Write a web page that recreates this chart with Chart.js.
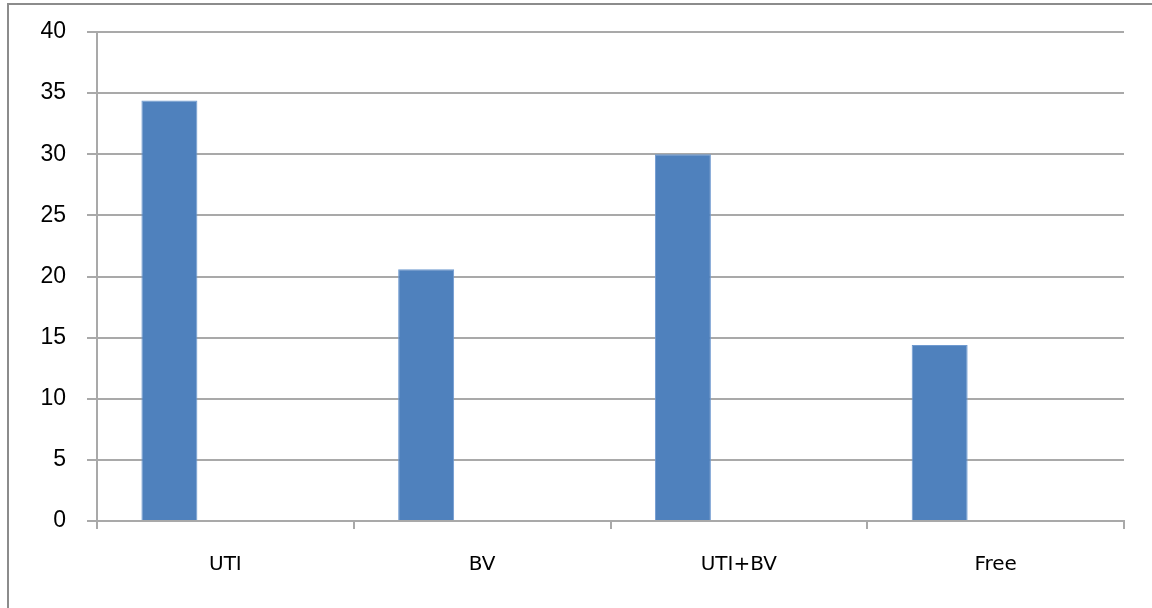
<!DOCTYPE html>
<html>
<head>
<meta charset="utf-8">
<script src="https://cdn.jsdelivr.net/npm/chart.js@4/dist/chart.umd.min.js"></script>
<style>
  html, body { margin: 0; padding: 0; background: #fff; }
  #wrap { position: relative; width: 1152px; height: 608px; overflow: hidden; }
  #frame { position: absolute; left: 7px; top: 3px; width: 1200px; height: 700px;
           border-top: 2px solid #8c8c8c; border-left: 2px solid #8c8c8c; }
  canvas { position: absolute; left: 0; top: 0; }
</style>
</head>
<body>
<div id="wrap">
  <div id="frame"></div>
  <canvas id="c" width="1152" height="608"></canvas>
</div>
<script>
const categories = ["UTI", "BV", "UTI+BV", "Free"];
const seriesValues = [34.4, 20.6, 30.0, 14.4];
const emptySeriesA = [null, null, null, null];
const emptySeriesB = [null, null, null, null];
const yTicks = [0, 5, 10, 15, 20, 25, 30, 35, 40];

const gridColor = '#a9a9a9';

new Chart(document.getElementById('c'), {
  type: 'bar',
  data: {
    labels: categories,
    datasets: [
      { data: seriesValues, backgroundColor: '#4f81bd', borderColor: '#6f9ad0', borderWidth: 1 },
      { data: emptySeriesA, backgroundColor: '#c0504d' },
      { data: emptySeriesB, backgroundColor: '#9bbb59' }
    ]
  },
  options: {
    responsive: false,
    animation: false,
    devicePixelRatio: 1,
    layout: { padding: { top: 32, right: 28, left: 0, bottom: 0 } },
    plugins: { legend: { display: false }, tooltip: { enabled: false } },
    datasets: { bar: { categoryPercentage: 0.654, barPercentage: 1.0 } },
    scales: {
      x: {
        offset: true,
        grid: { display: true, drawOnChartArea: false, offset: true, color: gridColor, lineWidth: 2, tickLength: 8 },
        border: { display: true, color: gridColor, width: 2 },
        ticks: { color: '#000', font: { family: 'DejaVu Sans', size: 20 }, padding: 24, maxRotation: 0 },
        afterFit: (s) => { s.height = 87; s.paddingLeft = 0; s.paddingRight = 0; }
      },
      y: {
        min: 0, max: 40,
        afterBuildTicks: (s) => { s.ticks = yTicks.map(v => ({ value: v })); },
        grid: { color: gridColor, lineWidth: 2, tickLength: 10 },
        border: { display: true, color: gridColor, width: 2 },
        ticks: { color: '#000', font: { family: 'Liberation Sans', size: 23 }, padding: 21 },
        afterFit: (s) => { s.width = 97; s.paddingTop = 0; s.paddingBottom = 0; }
      }
    }
  }
});
</script>
</body>
</html>
